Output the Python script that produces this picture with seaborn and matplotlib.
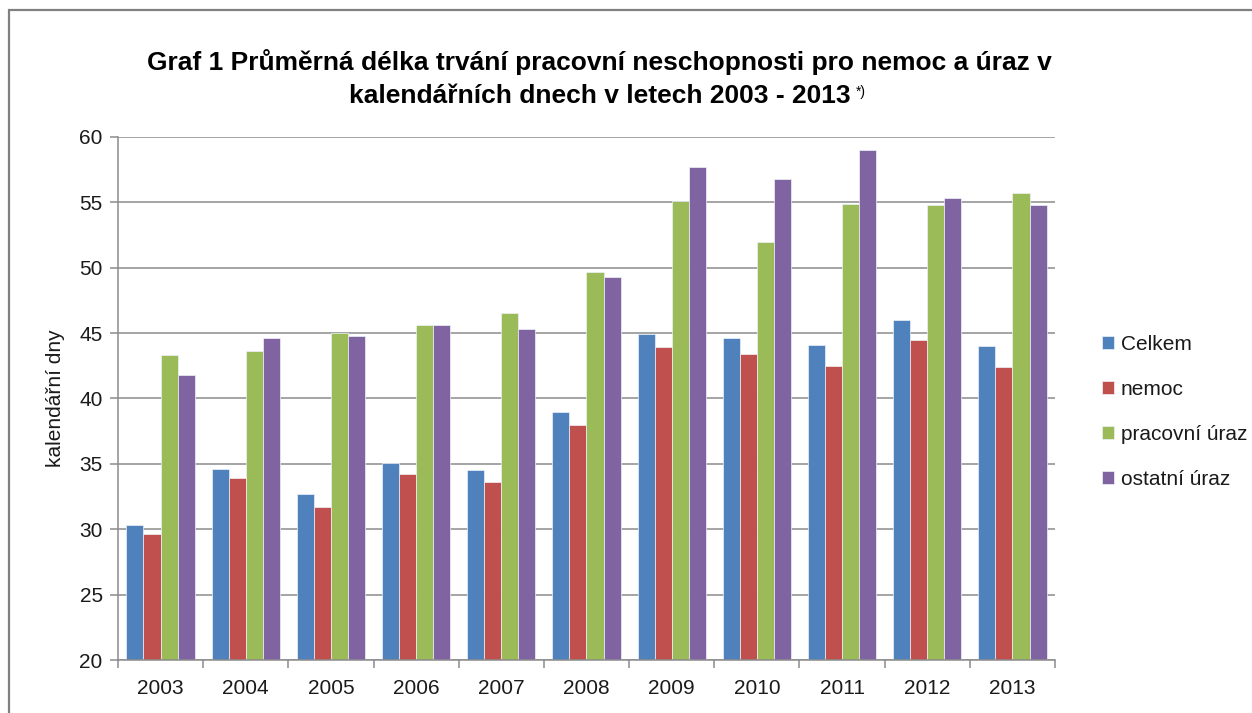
import pandas as pd
import seaborn as sns
import matplotlib.pyplot as plt
from matplotlib.ticker import FixedLocator
from matplotlib.patches import Rectangle

roky = ['2003', '2004', '2005', '2006', '2007', '2008', '2009', '2010', '2011', '2012', '2013']
celkem = [30.3, 34.6, 32.7, 35.1, 34.5, 39.0, 44.9, 44.6, 44.1, 46.0, 44.0]
nemoc = [29.6, 33.9, 31.7, 34.2, 33.6, 38.0, 43.9, 43.4, 42.5, 44.5, 42.4]
pracovni_uraz = [43.3, 43.6, 45.0, 45.6, 46.5, 49.7, 55.1, 52.0, 54.9, 54.8, 55.7]
ostatni_uraz = [41.8, 44.6, 44.8, 45.6, 45.3, 49.3, 57.7, 56.8, 59.0, 55.3, 54.8]

serie = ['Celkem', 'nemoc', 'pracovní úraz', 'ostatní úraz']
barvy = ['#4F81BD', '#C0504D', '#9BBB59', '#8064A2']

# dlouhy format pro seaborn
df = pd.DataFrame({'rok': roky * 4,
                   'serie': [s for s in serie for _ in roky],
                   'hodnota': celkem + nemoc + pracovni_uraz + ostatni_uraz})

sns.set_style("white")
plt.rcParams['font.family'] = ['Liberation Sans', 'DejaVu Sans']
plt.rcParams['text.color'] = '#1a1a1a'
plt.rcParams['axes.labelcolor'] = '#1a1a1a'
plt.rcParams['xtick.labelcolor'] = '#1a1a1a'
plt.rcParams['ytick.labelcolor'] = '#1a1a1a'

fig = plt.figure(figsize=(12.52, 7.13), dpi=100)
ax = fig.add_axes([0.0942, 0.0743, 0.7485, 0.7336])

sns.barplot(data=df, x='rok', y='hodnota', hue='serie', hue_order=serie,
            palette=barvy, saturation=1, width=0.8, ax=ax,
            edgecolor='#eef2f8', linewidth=0.5)

ax.set_ylim(20, 60)
ax.set_xlim(-0.5, len(roky) - 0.5)
ax.set_yticks(range(20, 61, 5))
ax.yaxis.grid(True, color='#8c8c8c', linewidth=1.1)
ax.set_axisbelow(True)
for s in ['top', 'right']:
    ax.spines[s].set_visible(False)
for s in ['left', 'bottom']:
    ax.spines[s].set_color('#8c8c8c')
    ax.spines[s].set_linewidth(1.1)

ax.tick_params(axis='y', which='major', left=True, length=6, width=1.1,
               color='#8c8c8c', labelsize=15, pad=5)
ax.tick_params(axis='x', which='major', bottom=False, labelsize=15, pad=10)
ax.xaxis.set_minor_locator(FixedLocator([i - 0.5 for i in range(len(roky) + 1)]))
ax.tick_params(axis='x', which='minor', bottom=True, length=6, width=1.1,
               color='#8c8c8c')

ax.set_xlabel('')
ax.set_ylabel('kalendářní dny', fontsize=15, labelpad=10)

ax.legend(loc='center left', bbox_to_anchor=(1.03, 0.475), frameon=False,
          fontsize=15, handlelength=0.6, handleheight=0.6, handletextpad=0.3,
          labelspacing=1.25)

fig.text(0.479, 0.913, 'Graf 1 Průměrná délka trvání pracovní neschopnosti pro nemoc a úraz v',
         ha='center', va='center', fontsize=19, fontweight='bold', color='black')
t2 = fig.text(0.479, 0.866, 'kalendářních dnech v letech 2003 - 2013',
              ha='center', va='center', fontsize=19, fontweight='bold', color='black')
fig.canvas.draw()
bb = t2.get_window_extent().transformed(fig.transFigure.inverted())
fig.text(bb.x1 + 0.004, bb.y1 - 0.002, '*)', ha='left', va='top', fontsize=10,
         color='black')

# ramecek grafu
fig.patches.append(Rectangle((9 / 1252, -0.1), 1.2, 1 - 10 / 713 + 0.1,
                             transform=fig.transFigure, fill=False,
                             edgecolor='#808080', linewidth=1.6))

plt.savefig('out.png', dpi=100)
